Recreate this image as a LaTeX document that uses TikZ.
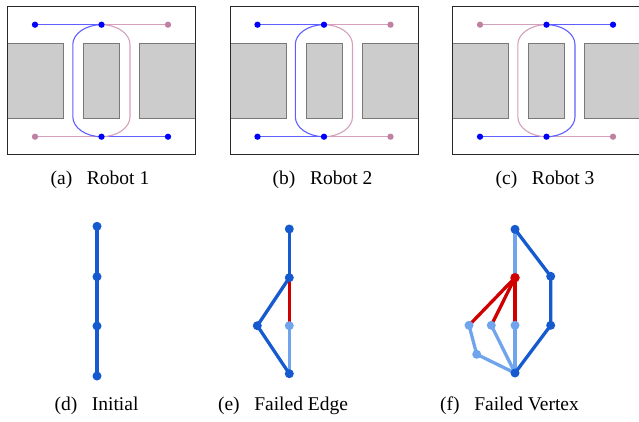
\documentclass[tikz,border=0pt]{standalone}
\usepackage{fontspec}
\setmainfont{Liberation Serif}
\pgfdeclarelayer{bg}
\pgfsetlayers{bg,main}
\definecolor{robB}{RGB}{0,0,255}
\definecolor{robP}{RGB}{192,128,162}
\definecolor{lineB}{RGB}{95,95,255}
\definecolor{lineP}{RGB}{212,160,188}
\definecolor{obsGray}{RGB}{204,204,204}
\definecolor{obsEdge}{RGB}{120,120,120}
\definecolor{frameC}{RGB}{40,40,40}
\definecolor{gDark}{RGB}{22,90,208}
\definecolor{gLight}{RGB}{112,165,238}
\definecolor{gRed}{RGB}{208,0,0}
\newcommand{\robpanel}[8]{%
\begin{scope}[xshift=#2pt,name prefix=#1-]
  \draw[obst] (-94,43.3) rectangle (-38,118.3);
  \draw[obst] (-18,43.3) rectangle (18,118.3);
  \draw[obst] (38,43.3) rectangle (94,118.3);
  \draw[frm] (-94,6.7) rectangle (94,154.3);
  \node[dot#3] (tl) at (-66.5,24.7) {};
  \node[dotB]  (tc) at (0,24.7) {};
  \node[dot#4] (tr) at (66.5,24.7) {};
  \node[dot#5] (bl) at (-66.5,136.7) {};
  \node[dotB]  (bc) at (0,136.7) {};
  \node[dot#6] (br) at (66.5,136.7) {};
  \begin{pgfonlayer}{bg}
    \draw[path#3] (tl.center) -- (tc.center);
    \draw[path#4] (tc.center) -- (tr.center);
    \draw[path#5] (bl.center) -- (bc.center);
    \draw[path#6] (bc.center) -- (br.center);
    \draw[path#7] (tc.center) .. controls +(-15.8,0) and +(0,-11) .. (-28.7,44.7)
       -- (-28.7,116.7) .. controls +(0,11) and +(-15.8,0) .. (bc.center);
    \draw[path#8] (tc.center) .. controls +(15.8,0) and +(0,-11) .. (28.5,44.7)
       -- (28.5,116.7) .. controls +(0,11) and +(15.8,0) .. (bc.center);
  \end{pgfonlayer}
\end{scope}}
\newcommand{\capgap}{\hspace{0.75em}}
\begin{document}
\begin{tikzpicture}[x=1pt,y=-1pt,
  dotB/.style={circle,fill=robB,inner sep=0pt,minimum size=6.3pt},
  dotP/.style={circle,fill=robP,inner sep=0pt,minimum size=6.3pt},
  pathB/.style={draw=lineB,line width=1.1pt},
  pathP/.style={draw=lineP,line width=1.1pt},
  obst/.style={fill=obsGray,draw=obsEdge,line width=0.8pt},
  frm/.style={draw=frameC,line width=1pt},
  capt/.style={anchor=base,inner sep=0pt,font=\fontsize{19.5}{22}\selectfont},
  gd/.style={circle,fill=gDark,inner sep=0pt,minimum size=9pt},
  gl/.style={circle,fill=gLight,inner sep=0pt,minimum size=9pt},
  gr/.style={circle,fill=gRed,inner sep=0pt,minimum size=9.5pt},
  ed/.style={draw=gDark,line width=3.3pt},
  el/.style={draw=gLight,line width=3.3pt},
  er/.style={draw=gRed,line width=3.3pt}]
\useasboundingbox (0,0) rectangle (639,422);

\robpanel{a}{101.5}{B}{P}{P}{B}{B}{P}
\robpanel{b}{324}{B}{P}{B}{P}{B}{P}
\robpanel{c}{546.5}{P}{B}{B}{P}{P}{B}

\node[capt] (capa) at (100,185) {(a)\capgap Robot 1};
\node[capt] (capb) at (322.5,185) {(b)\capgap Robot 2};
\node[capt] (capc) at (545,185) {(c)\capgap Robot 3};

% (d) Initial
\node[gd] (d1) at (97,226.3) {};
\node[gd] (d2) at (97,276.7) {};
\node[gd] (d3) at (97,326) {};
\node[gd] (d4) at (97,376) {};
\begin{pgfonlayer}{bg}
  \draw[ed] (d1.center) -- (d2.center) -- (d3.center) -- (d4.center);
\end{pgfonlayer}

% (e) Failed Edge
\node[gd] (e1) at (289.3,229) {};
\node[gd] (e2) at (289.3,277.7) {};
\node[gd] (e3) at (257.3,325.7) {};
\node[gl] (e4) at (289.3,325.7) {};
\node[gd] (e5) at (289.3,373.7) {};
\begin{pgfonlayer}{bg}
  \draw[el] (e4.center) -- (e5.center);
  \draw[er] (e2.center) -- (e4.center);
  \draw[ed] (e1.center) -- (e2.center);
  \draw[ed] (e2.center) -- (e3.center) -- (e5.center);
\end{pgfonlayer}

% (f) Failed Vertex
\node[gd] (f1) at (515,229.3) {};
\node[gr] (f2) at (515,277.7) {};
\node[gd] (f3) at (550.7,276.3) {};
\node[gd] (f4) at (550.7,325.3) {};
\node[gd] (f5) at (515,373) {};
\node[gl] (f6) at (469,325.3) {};
\node[gl] (f7) at (491.3,325.3) {};
\node[gl] (f8) at (515,325.3) {};
\node[gl] (f9) at (476.7,354.3) {};
\begin{pgfonlayer}{bg}
  \draw[el] (f1.center) -- (f2.center);
  \draw[el] (f6.center) -- (f9.center) -- (f5.center);
  \draw[el] (f7.center) -- (f5.center);
  \draw[el] (f8.center) -- (f5.center);
  \draw[er] (f2.center) -- (f6.center);
  \draw[er] (f2.center) -- (f7.center);
  \draw[er] (f2.center) -- (f8.center);
  \draw[ed] (f1.center) -- (f3.center) -- (f4.center) -- (f5.center);
\end{pgfonlayer}

\node[capt] (capd) at (96.5,410.7) {(d)\capgap Initial};
\node[capt] (cape) at (283,410.7) {(e)\capgap Failed Edge};
\node[capt] (capf) at (509.5,410.7) {(f)\capgap Failed Vertex};
\end{tikzpicture}
\end{document}
